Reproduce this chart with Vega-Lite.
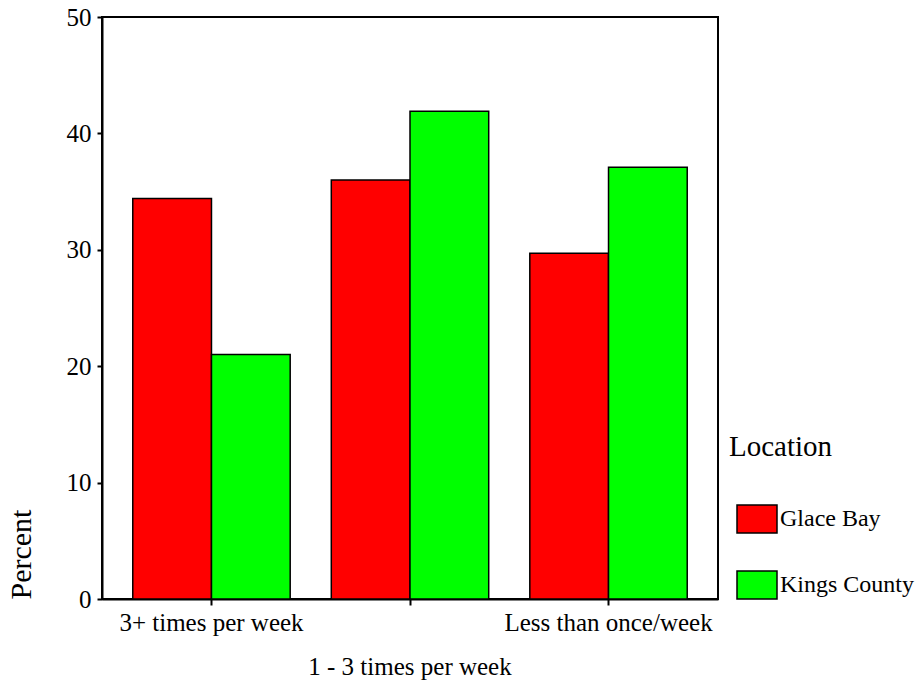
{
  "$schema": "https://vega.github.io/schema/vega-lite/v6.json",
  "autosize": "none",
  "padding": {"left": 102, "top": 17, "right": 206, "bottom": 82},
  "width": 616,
  "height": 582,
  "background": "white",
  "config": {
    "font": "Liberation Serif",
    "view": {"stroke": "black", "strokeWidth": 2}
  },
  "data": {
    "values": [
      {"freq": "3+ times per week", "location": "Glace Bay", "percent": 34.4},
      {"freq": "3+ times per week", "location": "Kings County", "percent": 21.0},
      {"freq": "1 - 3 times per week", "location": "Glace Bay", "percent": 36.0},
      {"freq": "1 - 3 times per week", "location": "Kings County", "percent": 41.9},
      {"freq": "Less than once/week", "location": "Glace Bay", "percent": 29.7},
      {"freq": "Less than once/week", "location": "Kings County", "percent": 37.1}
    ]
  },
  "mark": {"type": "bar", "stroke": "black", "strokeWidth": 1.5},
  "encoding": {
    "x": {
      "field": "freq",
      "type": "nominal",
      "sort": ["3+ times per week", "1 - 3 times per week", "Less than once/week"],
      "scale": {"paddingInner": 0.207, "paddingOuter": 0.155},
      "axis": {
        "title": null,
        "labelAngle": 0,
        "labelFont": "Liberation Serif",
        "labelFontSize": 25,
        "labelColor": "black",
        "labelPadding": 5,
        "labelLineHeight": 44,
        "labelLimit": 0,
        "labelExpr": "datum.label == '1 - 3 times per week' ? ['', datum.label] : datum.label",
        "labelOverlap": false,
        "domainColor": "black",
        "domainWidth": 2,
        "tickColor": "black",
        "tickWidth": 2,
        "tickSize": 6
      }
    },
    "xOffset": {
      "field": "location",
      "type": "nominal",
      "scale": {"paddingInner": 0, "paddingOuter": 0}
    },
    "y": {
      "field": "percent",
      "type": "quantitative",
      "scale": {"domain": [0, 50], "nice": false},
      "axis": {
        "title": "Percent",
        "titleFont": "Liberation Serif",
        "titleFontSize": 30,
        "titleFontWeight": "normal",
        "titleColor": "black",
        "titleAnchor": "start",
        "titlePadding": 30,
        "values": [0, 10, 20, 30, 40, 50],
        "grid": false,
        "labelFont": "Liberation Serif",
        "labelFontSize": 25,
        "labelColor": "black",
        "labelPadding": 6,
        "domainColor": "black",
        "domainWidth": 2,
        "tickColor": "black",
        "tickWidth": 2,
        "tickSize": 5
      }
    },
    "fill": {
      "field": "location",
      "type": "nominal",
      "scale": {"domain": ["Glace Bay", "Kings County"], "range": ["#ff0000", "#00ff00"]},
      "legend": {
        "title": "Location",
        "orient": "none",
        "legendX": 627,
        "legendY": 416,
        "titleFont": "Liberation Serif",
        "titleFontSize": 29,
        "titleFontWeight": "normal",
        "titleColor": "black",
        "titlePadding": 36,
        "labelFont": "Liberation Serif",
        "labelFontSize": 24,
        "labelColor": "black",
        "labelOffset": 9,
        "labelLimit": 0,
        "symbolType": "M-0.65,-0.7H1.35V0.7H-0.65Z",
        "symbolSize": 1600,
        "symbolStrokeColor": "black",
        "symbolStrokeWidth": 1.5,
        "symbolOpacity": 1,
        "rowPadding": 28
      }
    }
  }
}
